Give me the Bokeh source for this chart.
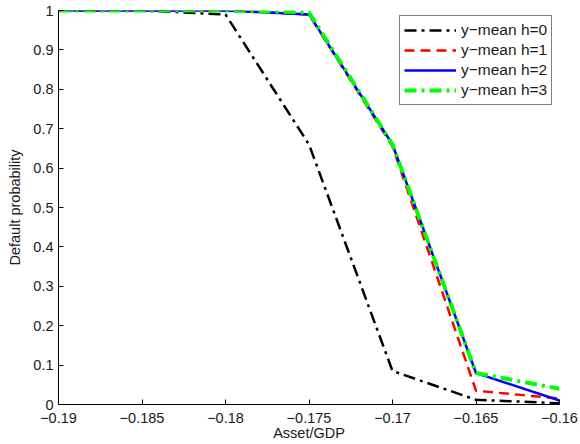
from bokeh.plotting import figure
from bokeh.models import Range1d, FixedTicker, CustomJSTickFormatter, Legend, LegendItem
from bokeh.embed import file_html
from bokeh.resources import INLINE

# Data
x_vals = [-0.19, -0.185, -0.18, -0.175, -0.17, -0.165, -0.16]
h0 = [1.0, 1.0, 0.99, 0.66, 0.085, 0.012, 0.003]
h1 = [1.0, 1.0, 1.0, 0.99, 0.655, 0.035, 0.015]
h2 = [1.0, 1.0, 1.0, 0.99, 0.66, 0.08, 0.01]
h3 = [1.0, 1.0, 1.0, 0.995, 0.66, 0.08, 0.04]
labels = ["y\u2212mean h=0", "y\u2212mean h=1", "y\u2212mean h=2", "y\u2212mean h=3"]
x_ticks = [-0.19, -0.185, -0.18, -0.175, -0.17, -0.165, -0.16]
y_ticks = [0, 0.1, 0.2, 0.3, 0.4, 0.5, 0.6, 0.7, 0.8, 0.9, 1.0]
x_title = "Asset/GDP"
y_title = "Default probability"

FONT = "Liberation Sans"

p = figure(width=580, height=444, output_backend="svg", toolbar_location=None,
           x_range=Range1d(-0.19, -0.16), y_range=Range1d(0, 1),
           min_border_left=58, min_border_right=21, min_border_top=10, min_border_bottom=40,
           x_axis_label=x_title, y_axis_label=y_title)
p.outline_line_color = None
p.xgrid.visible = False
p.ygrid.visible = False
p.background_fill_color = "white"
p.border_fill_color = "white"

fmt = CustomJSTickFormatter(code="""
const v = Math.round(tick*1000)/1000;
return v.toString().replace('-', '\\u2212');
""")

for ax, ticks in ((p.xaxis[0], x_ticks), (p.yaxis[0], y_ticks)):
    ax.ticker = FixedTicker(ticks=ticks)
    ax.formatter = fmt
    ax.major_tick_in = 5
    ax.major_tick_out = 0
    ax.minor_tick_line_color = None
    ax.axis_line_color = "black"
    ax.major_tick_line_color = "black"
    ax.major_label_text_font = FONT
    ax.major_label_text_font_size = "14.5px"
    ax.major_label_text_color = "#1a1a1a"
    ax.axis_label_text_font = FONT
    ax.axis_label_text_font_size = "14.5px"
    ax.axis_label_text_font_style = "normal"
    ax.axis_label_text_color = "#1a1a1a"

p.xaxis.major_label_standoff = 8
p.xaxis.axis_label_standoff = -1
p.yaxis.major_label_standoff = 5
p.yaxis.axis_label_standoff = 7

r0 = p.line(x_vals, h0, line_color="black", line_width=2.5, line_dash="12 5 3 5")
r1 = p.line(x_vals, h1, line_color="#ff0000", line_width=2.5, line_dash="10 6")
r2 = p.line(x_vals, h2, line_color="#0000ff", line_width=2.5)
r3 = p.line(x_vals, h3, line_color="#00ff00", line_width=4, line_dash="12 5 3 5")

legend = Legend(items=[LegendItem(label=labels[0], renderers=[r0]),
                       LegendItem(label=labels[1], renderers=[r1]),
                       LegendItem(label=labels[2], renderers=[r2]),
                       LegendItem(label=labels[3], renderers=[r3])],
                location=(341, 299))
legend.border_line_color = "black"
legend.border_line_width = 1
legend.background_fill_color = "white"
legend.background_fill_alpha = 1
legend.padding = 4
legend.spacing = 0
legend.margin = 0
legend.label_height = 20
legend.glyph_height = 20
legend.glyph_width = 52
legend.label_standoff = 5
legend.label_text_font = FONT
legend.label_text_font_size = "15.5px"
legend.label_text_color = "#1a1a1a"
p.add_layout(legend, "center")

open("out.html", "w").write(file_html(p, INLINE))
